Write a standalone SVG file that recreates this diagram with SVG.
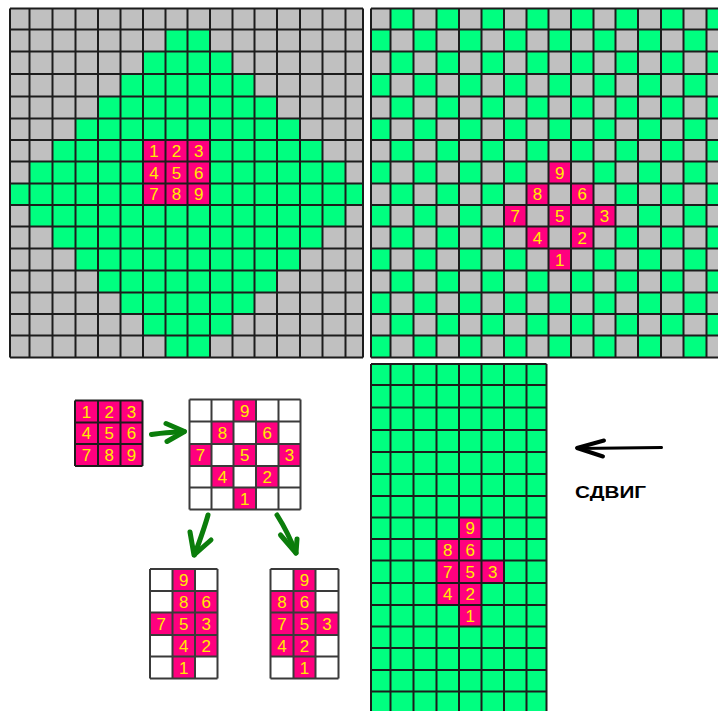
<svg xmlns="http://www.w3.org/2000/svg" xmlns:xlink="http://www.w3.org/1999/xlink" width="718" height="711" viewBox="0 0 718 711">
<style>
.grey{fill:#c0c0c0}
.green{fill:#00ff80}
.mag{fill:#ff007f}
.white{fill:#ffffff}
.gl{fill:none;stroke:#1c1c1c;stroke-width:2}
.wl{fill:none;stroke:#3a3a3a;stroke-width:2}
.d{font-family:"Liberation Sans",Arial,sans-serif;font-size:17px;fill:#ffec00;text-anchor:middle}
.ga{fill:none;stroke:#0b7d0b;stroke-width:5;stroke-linecap:round;stroke-linejoin:round}
.ba{fill:none;stroke:#000;stroke-linecap:round;stroke-linejoin:round}
.lbl{font-family:"Liberation Sans",Arial,sans-serif;font-size:17px;font-weight:bold;fill:#000}
</style>
<defs>
<path id="grid16" d="M10,8.5V357.5 M29.5,8.5V357.5 M52.5,8.5V357.5 M75.5,8.5V357.5 M98,8.5V357.5 M120.5,8.5V357.5 M143,8.5V357.5 M165.5,8.5V357.5 M187.5,8.5V357.5 M210,8.5V357.5 M232.5,8.5V357.5 M254.5,8.5V357.5 M277,8.5V357.5 M300,8.5V357.5 M322.5,8.5V357.5 M345.5,8.5V357.5 M363,8.5V357.5 M10,8.5H363 M10,29.5H363 M10,51.5H363 M10,74H363 M10,96.5H363 M10,118.5H363 M10,140H363 M10,161.5H363 M10,183.5H363 M10,205H363 M10,226.5H363 M10,248.5H363 M10,270.5H363 M10,292.5H363 M10,314H363 M10,335.5H363 M10,357.5H363"/>
</defs>
<rect width="718" height="711" fill="#ffffff"/>

<g id="panel-diamond">
<rect class="grey" x="10" y="8.5" width="353" height="349"/>
<path class="green" d="M165.5,29.5 H210 V51.5 H232.5 V74 H254.5 V96.5 H277 V118.5 H300 V140 H322.5 V161.5 H345.5 V183.5 H363 V205 H345.5 V226.5 H322.5 V248.5 H300 V270.5 H277 V292.5 H254.5 V314 H232.5 V335.5 H210 V357.5 H165.5 V335.5 H143 V314 H120.5 V292.5 H98 V270.5 H75.5 V248.5 H52.5 V226.5 H29.5 V205 H10 V183.5 H29.5 V161.5 H52.5 V140 H75.5 V118.5 H98 V96.5 H120.5 V74 H143 V51.5 H165.5 Z"/>
<rect class="mag" x="143" y="140" width="67" height="65"/>
<use xlink:href="#grid16" class="gl"/>
<text class="d" x="154" y="156.8">1</text><text class="d" x="176.5" y="156.8">2</text><text class="d" x="198.8" y="156.8">3</text>
<text class="d" x="154" y="178.5">4</text><text class="d" x="176.5" y="178.5">5</text><text class="d" x="198.8" y="178.5">6</text>
<text class="d" x="154" y="200.3">7</text><text class="d" x="176.5" y="200.3">8</text><text class="d" x="198.8" y="200.3">9</text>
</g>

<g id="panel-checker">
<rect class="grey" x="371" y="8.5" width="353" height="349"/>
<path class="green" fill-rule="evenodd" d="M390.5,8.5H413.5V357.5H390.5Z M436.5,8.5H459V357.5H436.5Z M481.5,8.5H504V357.5H481.5Z M526.5,8.5H548.5V357.5H526.5Z M571,8.5H593.5V357.5H571Z M615.5,8.5H638V357.5H615.5Z M661,8.5H683.5V357.5H661Z M706.5,8.5H724V357.5H706.5Z M371,29.5H724V51.5H371Z M371,74H724V96.5H371Z M371,118.5H724V140H371Z M371,161.5H724V183.5H371Z M371,205H724V226.5H371Z M371,248.5H724V270.5H371Z M371,292.5H724V314H371Z M371,335.5H724V357.5H371Z"/>
<path class="mag" d="M548.5,161.5h22.5v22h-22.5Z M526.5,183.5h22v21.5h-22Z M571,183.5h22.5v21.5h-22.5Z M504,205h22.5v21.5h-22.5Z M548.5,205h22.5v21.5h-22.5Z M593.5,205h22v21.5h-22Z M526.5,226.5h22v22h-22Z M571,226.5h22.5v22h-22.5Z M548.5,248.5h22.5v22h-22.5Z"/>
<use xlink:href="#grid16" class="gl" x="361"/>
<text class="d" x="559.8" y="178.5">9</text>
<text class="d" x="537.5" y="200.3">8</text><text class="d" x="582.3" y="200.3">6</text>
<text class="d" x="515.3" y="221.8">7</text><text class="d" x="559.8" y="221.8">5</text><text class="d" x="604.5" y="221.8">3</text>
<text class="d" x="537.5" y="243.5">4</text><text class="d" x="582.3" y="243.5">2</text>
<text class="d" x="559.8" y="265.5">1</text>
</g>

<g id="panel-shifted">
<rect class="green" x="371" y="364" width="175.5" height="348"/>
<path class="mag" d="M459,517.5h22.5v21.5h-22.5Z M436.5,539h45v21.5h-45Z M436.5,560.5h67.5v22.5h-67.5Z M436.5,583h45v22h-45Z M459,605h22.5v21.5h-22.5Z"/>
<path class="gl" d="M371,364V712 M390.5,364V712 M413.5,364V712 M436.5,364V712 M459,364V712 M481.5,364V712 M504,364V712 M526.5,364V712 M546.5,364V712 M371,364H546.5 M371,385H546.5 M371,407.5H546.5 M371,430H546.5 M371,452H546.5 M371,474H546.5 M371,496H546.5 M371,517.5H546.5 M371,539H546.5 M371,560.5H546.5 M371,583H546.5 M371,605H546.5 M371,626.5H546.5 M371,648H546.5 M371,670H546.5 M371,691.5H546.5"/>
<text class="d" x="470.3" y="534.3">9</text>
<text class="d" x="447.8" y="555.8">8</text><text class="d" x="470.3" y="555.8">6</text>
<text class="d" x="447.8" y="577.8">7</text><text class="d" x="470.3" y="577.8">5</text><text class="d" x="492.8" y="577.8">3</text>
<text class="d" x="447.8" y="600">4</text><text class="d" x="470.3" y="600">2</text>
<text class="d" x="470.3" y="621.8">1</text>
</g>

<g id="kernel">
<rect class="mag" x="75" y="400.5" width="67.5" height="65.5"/>
<path class="gl" d="M75,400.5V466 M98,400.5V466 M120.5,400.5V466 M142.5,400.5V466 M75,400.5H142.5 M75,422.5H142.5 M75,444H142.5 M75,466H142.5"/>
<text class="d" x="86.5" y="417.5">1</text><text class="d" x="109.3" y="417.5">2</text><text class="d" x="131.5" y="417.5">3</text>
<text class="d" x="86.5" y="439.3">4</text><text class="d" x="109.3" y="439.3">5</text><text class="d" x="131.5" y="439.3">6</text>
<text class="d" x="86.5" y="461">7</text><text class="d" x="109.3" y="461">8</text><text class="d" x="131.5" y="461">9</text>
</g>

<g id="rotated">
<rect class="white" x="189.5" y="399.5" width="111" height="110"/>
<path class="mag" d="M233.5,399.5h22.5v22h-22.5Z M211.5,421.5h22v22.5h-22Z M256,421.5h22.5v22.5h-22.5Z M189.5,444h22v22h-22Z M233.5,444h22.5v22h-22.5Z M278.5,444h22v22h-22Z M211.5,466h22v21.5h-22Z M256,466h22.5v21.5h-22.5Z M233.5,487.5h22.5v22h-22.5Z"/>
<path class="wl" d="M189.5,399.5V509.5 M211.5,399.5V509.5 M233.5,399.5V509.5 M256,399.5V509.5 M278.5,399.5V509.5 M300.5,399.5V509.5 M189.5,399.5H300.5 M189.5,421.5H300.5 M189.5,444H300.5 M189.5,466H300.5 M189.5,487.5H300.5 M189.5,509.5H300.5"/>
<text class="d" x="244.8" y="416.5">9</text>
<text class="d" x="222.5" y="438.8">8</text><text class="d" x="267.3" y="438.8">6</text>
<text class="d" x="200.5" y="461">7</text><text class="d" x="244.8" y="461">5</text><text class="d" x="289.5" y="461">3</text>
<text class="d" x="222.5" y="482.8">4</text><text class="d" x="267.3" y="482.8">2</text>
<text class="d" x="244.8" y="504.5">1</text>
</g>

<g id="compact-left">
<rect class="white" x="150" y="569" width="67.5" height="109.5"/>
<path class="mag" d="M172.5,569h22.5v109.5h-22.5Z M195,591h22.5v21.5h-22.5Z M150,612.5h22.5v22.5h-22.5Z M195,612.5h22.5v22.5h-22.5Z M195,635h22.5v21.5h-22.5Z"/>
<path class="wl" d="M150,569V678.5 M172.5,569V678.5 M195,569V678.5 M217.5,569V678.5 M150,569H217.5 M150,591H217.5 M150,612.5H217.5 M150,635H217.5 M150,656.5H217.5 M150,678.5H217.5"/>
<text class="d" x="183.8" y="586">9</text>
<text class="d" x="183.8" y="607.8">8</text><text class="d" x="206.3" y="607.8">6</text>
<text class="d" x="161.3" y="629.8">7</text><text class="d" x="183.8" y="629.8">5</text><text class="d" x="206.3" y="629.8">3</text>
<text class="d" x="183.8" y="651.8">4</text><text class="d" x="206.3" y="651.8">2</text>
<text class="d" x="183.8" y="673.5">1</text>
</g>

<g id="compact-right">
<rect class="white" x="270.5" y="569" width="68" height="109.5"/>
<path class="mag" d="M293.5,569h22v109.5h-22Z M270.5,591h23v65.5h-23Z M315.5,612.5h23v22.5h-23Z"/>
<path class="wl" d="M270.5,569V678.5 M293.5,569V678.5 M315.5,569V678.5 M338.5,569V678.5 M270.5,569H338.5 M270.5,591H338.5 M270.5,612.5H338.5 M270.5,635H338.5 M270.5,656.5H338.5 M270.5,678.5H338.5"/>
<text class="d" x="304.5" y="586">9</text>
<text class="d" x="282" y="607.8">8</text><text class="d" x="304.5" y="607.8">6</text>
<text class="d" x="282" y="629.8">7</text><text class="d" x="304.5" y="629.8">5</text><text class="d" x="327" y="629.8">3</text>
<text class="d" x="282" y="651.8">4</text><text class="d" x="304.5" y="651.8">2</text>
<text class="d" x="304.5" y="673.5">1</text>
</g>

<g id="connectors">
<path class="ga" d="M151.5,434.5 C160,433 172,432.5 184,431.5"/>
<path class="ga" d="M166,423.5 L184.5,431.5 L167,441.5"/>
<path class="ga" d="M208,515 C205,526 200,540 194.5,555"/>
<path class="ga" d="M190,532 L194,555 L211,540"/>
<path class="ga" d="M277,515 C284,526 291,540 296,553"/>
<path class="ga" d="M280.5,535 L296,553 L297,539"/>
<path class="ba" stroke-width="3" d="M661.5,447.5 L578,448.5"/>
<path class="ba" stroke-width="4" d="M604,440.5 L577,448 L603,456.5"/>
</g>

<g id="label-shift">
<text class="lbl" x="575" y="497.5" textLength="71" lengthAdjust="spacingAndGlyphs">СДВИГ</text>
</g>
</svg>
